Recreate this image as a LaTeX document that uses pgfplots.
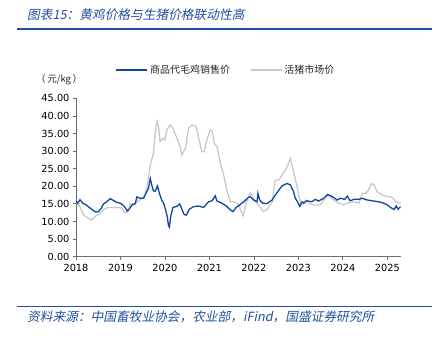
\documentclass[border=0pt]{standalone}
\usepackage{fontspec}
\setmainfont{DejaVu Sans}
\newfontfamily\cjk{Noto Sans CJK SC}
\newfontfamily\cjkit[FakeSlant=0.2]{Noto Sans CJK SC}
\usepackage{pgfplots}
\pgfplotsset{compat=1.18}
\definecolor{chick}{RGB}{16,70,160}
\definecolor{pig}{RGB}{200,200,200}
\definecolor{ttl}{RGB}{31,80,160}
\definecolor{axc}{RGB}{110,110,110}
\begin{document}
\begin{tikzpicture}
\path[use as bounding box] (0pt,0pt) rectangle (439pt,340pt);
\begin{axis}[
  at={(76pt,83.3pt)}, anchor=south west,
  scale only axis, width=324.7pt, height=158.4pt,
  xmin=2018, xmax=2025.3, ymin=0, ymax=45,
  axis x line=bottom, axis y line=left,
  axis line style={-, draw=axc, line width=0.8pt},
  tick style={draw=axc, line width=0.8pt},
  tick align=outside, major tick length=3pt,
  xtick={2018,2019,2020,2021,2022,2023,2024,2025},
  ytick={0,5,10,15,20,25,30,35,40,45},
  x tick label style={/pgf/number format/1000 sep={}, /pgf/number format/fixed},
  y tick label style={/pgf/number format/fixed, /pgf/number format/fixed zerofill, /pgf/number format/precision=2},
  /pgf/number format/assume math mode=true,
  tick label style={font=\fontsize{9.8}{11}\selectfont, text=black},
  xticklabel style={yshift=-1pt},
  legend columns=2,
  legend style={at={(0.462,1.179)}, anchor=center, draw=none, fill=none,
    font=\cjk\fontsize{10}{12}\selectfont, text=black!85,
    /tikz/every even column/.append style={column sep=18pt}},
  legend image code/.code={\draw[#1] (0pt,0pt) -- (31pt,0pt);},
]
\addplot[chick, line width=1.3pt] coordinates {(2018,0)};
\addlegendentry{商品代毛鸡销售价}
\addplot[pig, line width=1.3pt] coordinates {
(2018.00,15.6)(2018.09,14.2)(2018.17,11.8)(2018.28,10.9)(2018.35,10.4)(2018.43,11.4)
(2018.54,12.3)(2018.62,13.5)(2018.73,14.0)(2018.92,14.0)(2019.03,13.8)(2019.10,12.5)
(2019.18,12.8)(2019.22,15.0)(2019.33,15.2)(2019.44,16.1)(2019.55,17.5)(2019.60,20.0)
(2019.63,22.7)(2019.67,25.8)(2019.74,29.4)(2019.78,35.1)(2019.82,38.4)(2019.85,37.4)
(2019.89,32.7)(2019.95,33.6)(2020.00,33.2)(2020.04,36.0)(2020.12,37.4)(2020.18,36.5)
(2020.27,33.6)(2020.34,31.2)(2020.38,28.9)(2020.46,30.8)(2020.53,36.5)(2020.61,37.4)
(2020.70,37.0)(2020.75,34.1)(2020.83,29.8)(2020.88,29.8)(2020.94,33.2)(2021.02,36.0)
(2021.06,35.8)(2021.11,32.2)(2021.17,31.2)(2021.24,26.9)(2021.32,23.2)(2021.39,18.9)
(2021.47,15.6)(2021.54,15.6)(2021.63,15.2)(2021.70,13.3)(2021.76,11.6)(2021.82,15.2)
(2021.92,18.2)(2021.99,16.6)(2022.10,14.7)(2022.21,12.8)(2022.29,13.3)(2022.41,15.6)
(2022.48,21.8)(2022.56,21.8)(2022.63,23.2)(2022.73,25.1)(2022.82,27.9)(2022.89,24.2)
(2022.97,19.9)(2023.03,16.1)(2023.08,14.7)(2023.16,16.1)(2023.23,15.2)(2023.34,14.7)
(2023.49,14.7)(2023.58,16.3)(2023.66,17.5)(2023.80,16.1)(2023.91,15.2)(2024.02,14.7)
(2024.10,15.2)(2024.25,15.6)(2024.36,15.2)(2024.43,18.0)(2024.51,18.0)(2024.58,18.9)
(2024.64,20.8)(2024.70,20.4)(2024.77,18.5)(2024.89,17.5)(2025.00,17.1)(2025.11,16.9)
(2025.19,15.6)(2025.30,15.2)
};
\addlegendentry{活猪市场价}
\addplot[chick, line width=1.3pt, forget plot] coordinates {
(2018.00,15.8)(2018.04,15.2)(2018.09,16.2)(2018.15,15.2)(2018.22,14.8)(2018.30,14.0)
(2018.38,13.2)(2018.44,12.7)(2018.50,12.8)(2018.56,13.6)(2018.62,15.0)(2018.69,15.6)
(2018.77,16.5)(2018.84,16.0)(2018.92,15.4)(2019.00,15.2)(2019.06,14.6)(2019.10,14.0)
(2019.15,13.0)(2019.20,13.6)(2019.26,14.7)(2019.33,15.0)(2019.37,17.0)(2019.44,16.6)
(2019.52,16.6)(2019.59,18.5)(2019.63,19.5)(2019.67,22.2)(2019.71,20.0)(2019.74,18.7)
(2019.78,18.6)(2019.83,20.1)(2019.88,17.8)(2019.93,16.0)(2019.97,15.2)(2020.02,13.0)
(2020.05,11.5)(2020.08,8.8)(2020.10,8.4)(2020.13,11.5)(2020.18,14.0)(2020.27,14.3)
(2020.33,15.0)(2020.38,13.5)(2020.43,12.0)(2020.48,11.8)(2020.55,13.5)(2020.64,14.2)
(2020.75,14.4)(2020.87,14.0)(2020.98,15.6)(2021.06,15.9)(2021.13,17.3)(2021.17,15.8)
(2021.28,15.2)(2021.38,14.4)(2021.47,13.3)(2021.53,12.8)(2021.60,14.0)(2021.69,14.8)
(2021.78,15.7)(2021.88,16.9)(2021.92,17.0)(2021.99,16.1)(2022.07,15.6)(2022.09,18.0)
(2022.13,16.1)(2022.20,15.2)(2022.29,15.1)(2022.41,16.1)(2022.48,17.5)(2022.56,18.9)
(2022.63,20.1)(2022.74,20.8)(2022.82,20.4)(2022.89,18.5)(2022.93,16.6)(2022.98,15.6)
(2023.03,14.3)(2023.08,15.6)(2023.12,15.2)(2023.19,15.9)(2023.30,15.6)(2023.38,16.3)
(2023.45,15.8)(2023.57,16.6)(2023.66,17.7)(2023.76,17.1)(2023.87,16.1)(2023.95,16.6)
(2024.04,16.3)(2024.10,17.2)(2024.16,15.9)(2024.25,16.3)(2024.36,16.3)(2024.43,16.6)
(2024.55,16.1)(2024.70,15.8)(2024.81,15.6)(2024.92,15.2)(2025.00,14.7)(2025.07,14.0)
(2025.15,13.4)(2025.20,14.4)(2025.24,13.5)(2025.30,14.2)
};
\end{axis}
\node[anchor=west, text=ttl, inner sep=0pt] at (27pt,325pt) {\cjkit\fontsize{12.7}{14}\selectfont 图表15：黄鸡价格与生猪价格联动性高};
\draw[ttl, line width=1.6pt] (17pt,311pt) -- (432pt,311pt);
\node[anchor=west, inner sep=0pt, text=black!85] at (36pt,260pt) {\cjk\fontsize{9.5}{11}\selectfont （\,元/kg\,）};
\draw[ttl, line width=1.4pt] (17pt,33.3pt) -- (432pt,33.3pt);
\node[anchor=west, text=ttl, inner sep=0pt] at (27pt,23pt) {\cjkit\fontsize{12.7}{14}\selectfont 资料来源：中国畜牧业协会，农业部，iFind，国盛证券研究所};
\end{tikzpicture}
\end{document}
